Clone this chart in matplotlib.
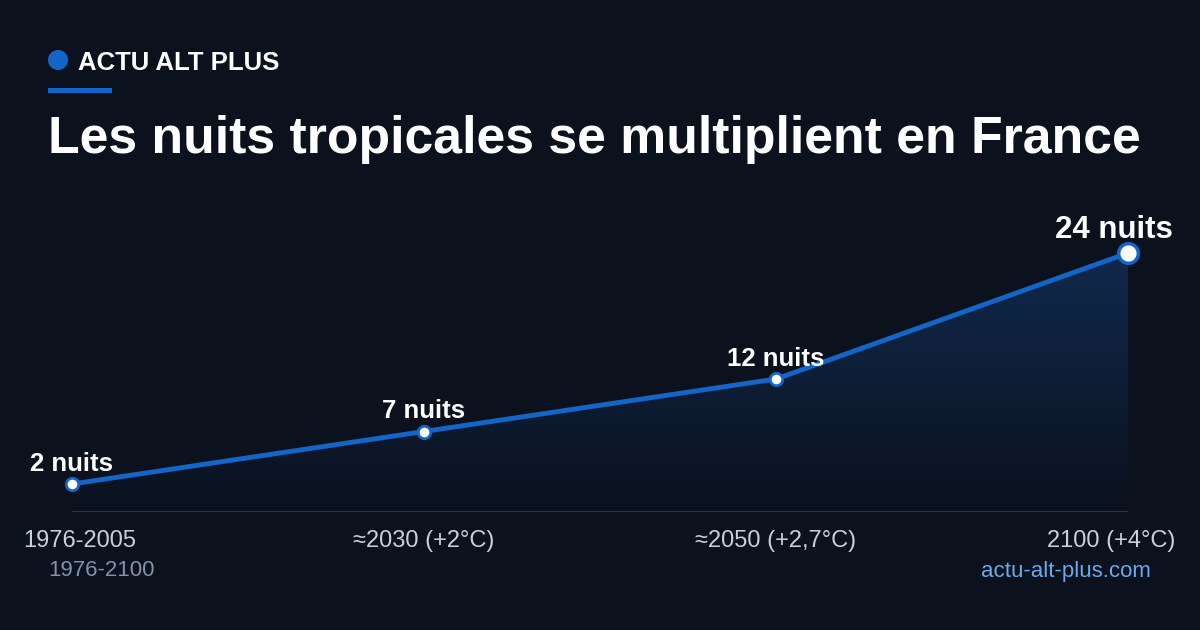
import numpy as np
import matplotlib.pyplot as plt
from matplotlib.patches import Polygon, Ellipse, Rectangle

periods = ["1976-2005", "≈2030 (+2°C)", "≈2050 (+2,7°C)", "2100 (+4°C)"]
nights = [2, 7, 12, 24]
labels = ["2 nuits", "7 nuits", "12 nuits", "24 nuits"]

BG = "#0b111d"
BLUE = "#1366c8"

fig = plt.figure(figsize=(12, 6.3), dpi=100, facecolor=BG)
plt.rcParams["font.family"] = ["Liberation Sans", "DejaVu Sans"]

ax = fig.add_axes([0.06, 0.1873, 0.88, 0.4444])
ax.set_facecolor(BG)
x = np.arange(len(nights))
ymin, ymax = -0.667, 26
ax.set_xlim(0, 3)
ax.set_ylim(ymin, ymax)

# gradient fill under the line
grad = np.linspace(0, 1, 256).reshape(-1, 1)
img = ax.imshow(grad, extent=[0, 3, ymin, max(nights)], origin="lower",
                cmap=plt.matplotlib.colors.LinearSegmentedColormap.from_list(
                    "g", [BG, "#10294d"]), aspect="auto", zorder=1)
poly = Polygon(list(zip(x, nights)) + [(3, ymin), (0, ymin)], closed=True,
               transform=ax.transData, facecolor="none", edgecolor="none")
ax.add_patch(poly)
img.set_clip_path(poly)

ax.plot(x, nights, color=BLUE, lw=3.5, zorder=3, solid_capstyle="round", clip_on=False)
ax.scatter(x[:-1], nights[:-1], s=80, color="white", edgecolor=BLUE, linewidth=2,
           zorder=4, clip_on=False)
ax.scatter(x[-1:], nights[-1:], s=200, color="white", edgecolor=BLUE, linewidth=2.5,
           zorder=4, clip_on=False)

for i, (xi, v, lab) in enumerate(zip(x, nights, labels)):
    last = i == len(nights) - 1
    ax.annotate(lab, (xi, v), xytext=(-10 if last else 0, 6),
                textcoords="offset points", ha="center", va="bottom", color="white",
                fontweight="bold", fontsize=22.5 if last else 18.5, zorder=5,
                annotation_clip=False)

ax.axhline(ymin, color="#2c3646", lw=1.5, zorder=2)
for s in ax.spines.values():
    s.set_visible(False)
ax.set_yticks([])
ax.set_xticks([])

# period labels: outer ones kept inside the canvas
aligns = ["left", "center", "center", "right"]
shifts = [-35, 0, 0, 34]
for xi, p, ha, dx in zip(x, periods, aligns, shifts):
    ax.annotate(p, (xi, ymin), xytext=(dx, -13), textcoords="offset points",
                ha=ha, va="top", color="#c8d0dc", fontsize=17, annotation_clip=False)

# header
fig.patches.append(Ellipse((58 / 1200, 1 - 60 / 630), 20 / 1200, 20 / 630,
                           transform=fig.transFigure, facecolor=BLUE, edgecolor="none"))
fig.patches.append(Rectangle((48 / 1200, 1 - 93 / 630), 64 / 1200, 5 / 630,
                             transform=fig.transFigure, facecolor=BLUE, edgecolor="none"))
fig.text(78 / 1200, 1 - 63 / 630, "ACTU ALT PLUS", color="white", fontweight="bold",
         fontsize=18.5, va="center")
fig.text(48 / 1200, 1 - 140 / 630, "Les nuits tropicales se multiplient en France",
         color="white", fontweight="bold", fontsize=37.3, va="center")

fig.text(48 / 1200, 1 - 571 / 630, "1976-2100", color="#7f93ad", fontsize=16, va="center")
fig.text(1151 / 1200, 1 - 571 / 630, "actu-alt-plus.com", color="#6ea8e8", fontsize=16,
         va="center", ha="right")

fig.savefig("out.png", dpi=100, facecolor=BG)
